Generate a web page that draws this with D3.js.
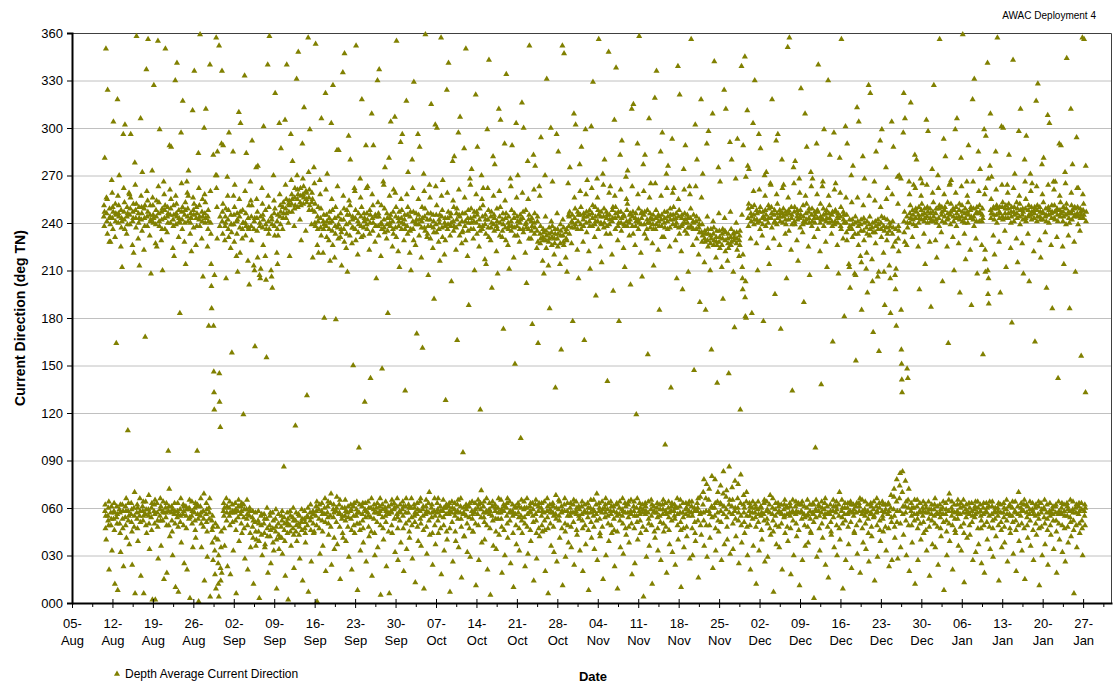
<!DOCTYPE html>
<html>
<head>
<meta charset="utf-8">
<script src="https://cdn.jsdelivr.net/npm/d3@7"></script>
<style>
  body { margin: 0; background: #fff; }
  text { font-family: Arial, "Liberation Sans", sans-serif; fill: #000; }
</style>
</head>
<body>
<div id="chart"></div>
<script>
// Depth average current direction, hourly readings, one row per day.
var stepMinutes = 60;

var augDir = [
  244,251,238,247,281,58,62,47,55,350,40,256,
  246,241,255,233,324,55,52,60,49,64,21,228,249,243,244,239,228,57,49,53,61,267,33,259,
  243,250,236,247,304,53,58,63,46,57,12,231,252,241,246,245,164,54,61,50,56,318,8,257,
  240,246,251,244,270,59,50,57,44,62,32,225,248,237,243,241,212,62,53,47,58,296,23,262,
  247,242,253,236,302,54,61,49,58,66,41,233,244,250,239,246,109,58,52,63,55,259,37,258,
  245,239,249,256,296,56,63,51,59,45,24,226,241,247,243,252,221,60,48,55,70,278,6,264,
  248,243,237,252,358,57,53,62,47,60,39,230,246,240,250,243,213,55,66,58,51,306,17,257,
  242,250,246,235,272,61,58,52,64,55,6,223,249,243,238,251,168,56,64,49,59,337,44,260,
  244,238,254,247,356,59,55,68,50,57,34,232,245,251,241,242,208,54,60,46,63,273,2,256,
  251,245,240,243,327,58,62,50,56,65,2,227,239,248,244,254,225,63,57,52,48,355,28,263,
  246,253,241,238,299,55,59,66,52,61,36,229,247,242,236,249,210,52,58,64,57,266,15,258,
  243,248,236,251,350,60,54,57,63,49,19,234,244,250,240,246,96,58,49,61,72,289,42,261,
  245,240,249,255,288,57,61,52,45,59,30,224,242,238,251,245,219,56,63,58,50,330,10,257,
  239,246,252,244,341,54,58,63,56,48,7,231,248,243,241,240,183,59,51,55,66,297,38,265,
  247,242,236,250,317,56,62,49,58,61,25,228,245,240,248,253,214,61,55,47,59,266,21,259,
  244,249,241,257,273,59,53,60,65,54,3,233,240,246,243,243,222,55,64,50,58,311,35,256,
  248,237,245,252,336,57,60,52,46,63,41,226,243,250,238,246,96,62,56,61,53,284,1,262,
  242,251,244,238,359,61,55,66,57,50,35,230,247,241,255,244,206,58,48,53,69,300,14,258,
  246,240,253,243,312,56,63,51,59,45,29,225,244,236,248,241,175,60,53,57,66,340,4,260,
  240,233,214,200,186,52,46,38,55,48,27,283,175,146,133,122,207,33,18,41,50,270,9,357,
  262,270,250,230,285,48,40,25,12,30,4,352,145,127,238,244,111,22,14,35,45,290,19,336,
  241,247,233,252,289,58,63,55,47,60,36,229,238,244,240,249,205,66,52,57,61,269,23,257
];

var sepDir = [
  242,236,248,231,297,60,55,64,49,57,18,224,245,239,239,234,158,57,62,51,58,285,33,257,
  239,245,228,250,264,57,63,52,59,46,6,219,241,233,246,242,209,58,54,61,65,310,39,255,
  244,237,221,247,303,56,61,50,58,63,44,230,236,248,240,240,119,62,54,47,59,333,28,260,
  240,232,246,238,284,59,53,65,56,49,21,216,243,237,236,251,201,55,60,58,44,266,35,254,
  238,244,229,251,292,54,48,58,41,52,12,213,236,241,210,243,162,51,57,45,36,275,40,255,
  243,235,247,218,276,52,58,45,50,39,3,207,240,238,205,244,211,55,49,43,56,262,30,252,
  237,245,226,242,301,50,56,44,53,35,37,219,248,239,204,236,155,53,60,47,42,340,19,257,
  241,233,250,236,358,49,55,42,57,46,25,210,244,206,242,239,199,57,47,38,52,270,33,254,
  246,238,232,249,322,53,45,59,48,40,9,221,241,236,214,245,232,50,56,43,34,303,41,258,
  244,251,239,247,287,48,55,41,52,58,31,236,250,243,253,246,86,54,46,50,39,305,17,264,
  249,243,255,246,340,51,57,44,49,53,2,240,252,247,254,251,219,49,58,45,55,296,36,267,
  252,258,247,255,279,54,47,60,52,43,22,238,249,256,262,251,112,52,45,57,49,331,39,270,
  255,261,250,258,348,56,50,43,55,48,28,242,253,262,257,251,229,51,59,46,53,290,14,268,
  258,252,263,256,313,53,58,47,51,44,38,235,260,255,259,253,131,55,49,54,60,357,7,272,
  256,248,261,251,299,57,52,62,46,54,26,239,253,259,248,255,218,58,50,56,44,275,45,265,
  247,240,252,238,353,55,61,58,49,64,1,226,244,236,241,250,221,59,53,47,62,267,31,258,
  243,237,249,232,306,58,63,52,56,45,36,221,241,236,245,239,180,60,56,66,51,322,20,261,
  238,245,231,241,271,57,61,54,64,50,43,229,236,243,247,240,216,55,63,48,69,303,24,255,
  241,235,248,226,327,59,54,62,57,41,34,218,243,238,233,250,179,58,51,60,67,286,37,263,
  237,244,230,239,286,56,62,57,48,65,15,231,246,242,236,234,213,53,60,55,44,335,41,257,
  242,236,249,228,347,60,55,65,52,58,39,224,239,233,248,245,209,57,48,61,54,295,29,254,
  240,245,232,251,280,58,62,53,59,46,21,227,237,242,244,237,150,61,55,49,63,262,44,260,
  236,243,248,229,352,55,59,64,50,57,8,220,241,234,246,239,98,57,50,62,46,268,33,256,
  244,238,231,250,318,61,56,52,63,47,38,232,237,246,241,243,127,59,63,54,58,289,26,262,
  239,246,236,242,263,57,64,55,48,60,42,223,233,248,240,245,142,54,60,45,66,309,17,258,
  243,235,251,240,289,59,53,62,57,44,30,228,245,238,238,244,205,60,57,51,63,330,35,253,
  238,246,232,244,337,56,61,58,66,49,5,219,240,251,239,236,148,62,54,59,47,266,40,264,
  242,237,249,234,275,60,55,64,51,58,23,230,246,239,243,235,183,57,61,45,56,281,6,257,
  240,243,238,245,304,58,62,57,49,65,44,225,241,236,247,233,261,59,63,53,60,307,32,259,
  237,244,250,231,355,61,56,66,54,47,27,222,243,238,241,247,212,58,52,62,57,291,38,255
];

var octDir = [
  243,236,248,240,296,59,64,55,47,61,20,229,239,242,245,236,134,61,57,50,66,317,34,258,
  238,245,233,250,272,57,62,52,60,45,41,221,244,235,247,236,210,60,66,54,49,280,28,262,
  241,236,247,229,329,62,55,60,51,57,13,226,240,246,239,242,170,56,63,48,59,296,39,255,
  245,239,232,242,288,58,64,53,66,50,36,218,237,241,250,243,161,59,55,61,46,271,9,260,
  237,244,249,235,359,56,61,65,48,58,31,231,242,233,246,238,207,63,57,52,70,264,43,256,
  242,230,246,238,315,60,54,62,57,44,24,224,245,237,241,234,192,58,66,49,55,302,37,263,
  239,245,234,251,300,63,57,59,52,66,44,228,236,242,240,245,216,55,61,47,58,357,18,257,
  244,237,248,231,267,58,65,54,49,60,33,220,240,238,243,229,128,60,56,62,45,324,40,259,
  236,243,239,247,341,61,56,63,58,47,7,232,244,238,246,240,203,57,64,51,60,279,26,254,
  241,235,250,238,282,59,63,55,45,57,39,223,237,246,242,249,166,62,58,53,65,297,35,261,
  245,239,232,244,307,57,61,66,53,48,16,227,241,234,246,235,95,56,60,57,42,287,42,256,
  238,246,241,229,350,62,55,59,61,50,32,219,243,235,248,240,188,61,54,47,63,268,29,264,
  243,236,249,240,274,58,64,53,56,45,45,230,236,241,244,247,210,57,63,59,50,321,11,258,
  240,247,233,245,288,56,60,65,49,62,27,225,242,238,249,235,122,63,59,54,71,270,38,255,
  236,244,238,251,262,61,57,54,64,51,40,217,239,245,242,233,214,58,66,49,57,299,21,262,
  242,237,248,231,343,59,63,56,47,58,5,229,244,237,247,240,199,55,61,64,52,282,36,257,
  239,245,235,243,277,62,58,60,53,45,34,222,238,249,241,236,208,60,53,57,66,312,43,260,
  244,232,240,250,305,57,65,53,59,48,19,231,235,242,246,239,173,62,58,46,61,290,30,254,
  237,243,229,246,334,60,55,63,50,66,41,226,240,236,244,238,211,57,64,52,58,268,25,263,
  241,235,248,238,289,58,62,55,44,57,10,218,243,237,246,232,151,61,56,60,49,303,37,256,
  238,244,232,241,270,63,57,61,54,47,33,228,236,240,245,242,104,55,60,65,52,316,44,259,
  243,236,247,234,300,59,64,54,60,50,23,221,239,248,240,237,202,60,66,48,56,279,31,255,
  236,242,230,245,352,57,61,58,46,63,39,230,241,235,243,238,176,63,55,59,51,283,14,261,
  240,233,246,237,276,62,56,65,52,44,28,224,235,241,244,228,164,58,61,47,63,263,42,257,
  233,227,238,230,294,60,55,63,49,58,45,216,231,236,229,234,208,57,64,52,46,270,20,244,
  229,235,224,232,331,58,66,54,61,47,6,213,228,233,237,230,186,62,59,50,57,300,36,241,
  234,226,231,238,266,63,57,61,48,55,32,220,230,227,236,233,136,56,68,53,60,296,26,246,
  230,236,225,233,285,59,65,55,52,64,41,214,227,239,232,235,160,61,57,47,58,352,11,242,
  232,228,237,226,347,62,58,66,50,45,29,218,234,230,236,229,209,58,63,55,49,265,38,245,
  238,244,233,247,275,60,55,63,57,48,35,227,241,237,245,240,178,57,62,51,65,309,24,256,
  243,237,249,239,302,58,64,56,46,60,43,223,236,247,241,245,205,61,55,53,59,277,33,260
];

var novDir = [
  245,239,250,236,288,61,56,64,52,47,20,228,242,238,246,244,166,58,62,49,57,299,37,258,
  240,247,234,244,267,57,63,54,60,46,8,222,245,241,248,238,211,60,57,65,51,301,41,262,
  246,238,243,251,329,59,55,65,48,58,34,231,239,250,244,241,194,62,56,52,69,268,27,256,
  241,248,236,245,356,63,58,60,53,44,42,225,244,240,247,239,215,57,64,48,59,271,15,264,
  244,237,249,240,280,60,54,62,57,66,30,233,247,243,238,245,140,59,55,50,63,348,39,259,
  239,245,242,233,263,58,64,56,49,61,44,220,241,248,243,250,197,61,58,53,46,305,23,257,
  243,236,250,246,338,62,57,63,55,45,9,229,238,244,247,240,178,56,60,64,52,283,35,261,
  247,240,235,243,292,59,55,66,50,58,31,224,245,239,244,238,212,63,57,47,61,269,43,255,
  241,248,238,252,273,57,62,54,64,48,38,232,240,245,242,246,201,58,65,56,50,312,18,263,
  238,244,247,233,315,61,58,64,47,55,25,226,243,238,246,241,119,60,55,51,66,290,40,258,
  242,236,249,240,358,58,63,56,52,60,44,221,239,246,243,247,206,62,57,48,59,277,4,260,
  245,239,233,247,283,63,56,61,58,46,29,230,236,242,248,240,157,57,64,53,50,306,36,256,
  240,246,237,243,265,59,65,55,49,62,12,227,242,239,245,236,213,61,58,45,57,319,41,265,
  236,243,248,239,336,57,60,63,54,47,33,223,245,241,244,238,185,55,62,59,51,285,27,257,
  242,238,245,231,297,62,56,59,65,50,45,231,240,247,243,237,100,63,58,48,56,271,19,262,
  247,241,236,244,276,60,64,54,46,57,37,225,237,249,242,245,136,58,61,52,63,293,32,259,
  239,245,242,250,262,58,55,62,53,60,24,229,243,238,246,240,205,60,66,49,56,339,40,255,
  244,237,248,233,321,61,57,65,51,46,10,222,238,243,245,239,198,57,63,54,47,274,35,261,
  240,246,235,242,289,59,63,56,60,48,42,233,245,240,243,237,209,62,55,58,64,263,28,258,
  237,243,249,238,356,57,61,64,47,55,30,226,241,236,245,240,147,60,58,51,44,302,39,263,
  241,236,244,230,280,63,58,60,52,66,16,220,237,242,239,234,190,56,67,49,57,318,43,256,
  234,228,239,232,271,62,70,57,52,78,36,215,230,235,228,233,185,66,58,49,75,290,29,244,
  229,236,225,233,298,65,58,72,49,56,41,210,227,232,236,230,160,61,80,54,60,309,22,241,
  233,226,237,229,342,60,55,78,63,47,33,218,231,228,235,226,139,64,57,70,52,275,45,246,
  228,235,231,224,266,63,74,58,51,62,27,212,226,233,230,236,192,69,83,56,61,324,37,243,
  235,229,222,234,312,67,59,71,54,48,40,216,230,227,233,224,145,62,86,57,65,291,31,247,
  231,226,236,228,280,61,73,56,65,50,34,209,233,229,234,231,174,58,77,60,53,268,42,240,
  227,234,230,223,293,66,60,75,52,57,25,219,229,232,226,235,122,63,81,55,49,339,38,245,
  212,205,198,220,289,62,68,57,51,60,44,345,193,181,203,269,180,64,70,55,48,311,30,276,
  243,249,238,252,274,58,63,55,49,61,21,230,246,241,244,250,183,60,57,53,64,303,36,260
];

var decDir = [
  245,239,251,242,330,57,62,54,60,48,12,227,248,242,246,240,210,59,64,51,56,296,33,261,
  241,247,236,250,287,61,55,60,46,57,40,232,243,239,247,244,178,56,63,52,65,270,26,257,
  248,242,238,245,272,58,64,53,59,50,29,224,240,251,243,249,214,62,57,47,68,265,43,264,
  243,250,246,237,318,56,60,66,52,45,7,230,245,240,248,241,195,59,55,63,49,292,37,258,
  239,246,252,243,296,63,57,61,48,58,35,226,248,244,241,246,173,57,62,50,56,280,21,262,
  246,240,244,249,264,59,54,62,55,65,44,233,242,247,239,245,205,61,56,48,60,351,39,256,
  242,248,235,246,357,57,63,55,61,47,18,223,250,243,245,239,134,58,65,52,57,275,30,265,
  247,241,250,239,279,61,56,64,50,58,42,229,244,248,242,246,216,63,57,46,62,268,11,259,
  243,237,248,245,325,58,62,53,57,64,27,234,239,251,244,241,190,56,61,49,54,309,36,257,
  240,246,242,252,288,60,55,65,48,56,38,225,247,243,249,240,207,62,58,53,45,272,44,263,
  245,238,249,241,268,57,63,56,62,51,3,231,243,247,240,245,98,59,54,65,58,290,29,258,
  248,243,236,247,340,62,58,61,47,55,33,222,240,252,244,242,138,57,64,50,60,263,41,266,
  242,249,245,238,299,59,54,63,56,66,24,228,246,241,248,243,212,61,56,48,57,330,16,257,
  246,240,251,243,283,56,62,58,51,45,43,233,241,245,238,247,165,58,65,54,61,297,35,261,
  239,247,241,248,265,61,57,64,49,59,30,226,244,240,246,243,208,62,55,47,70,281,40,259,
  244,238,250,236,356,58,65,54,60,50,9,230,247,242,245,240,181,56,60,63,52,301,27,256,
  240,234,245,229,290,60,56,63,48,57,37,214,236,212,242,238,199,58,64,51,62,270,22,253,
  236,242,231,239,276,57,62,55,59,45,44,208,233,240,244,207,153,61,57,49,63,313,31,256,
  241,233,238,226,304,63,58,61,52,66,19,219,239,235,242,215,185,56,65,47,58,282,38,251,
  235,243,229,240,268,59,55,64,50,57,34,211,237,221,241,233,196,62,58,53,44,327,26,257,
  239,232,244,236,322,56,63,57,61,48,42,217,237,203,240,234,171,59,54,64,55,266,14,254,
  234,241,227,238,285,61,57,66,49,58,29,206,242,236,239,209,159,63,60,52,46,292,39,250,
  240,236,231,244,299,58,64,55,53,62,45,221,238,209,243,235,188,57,62,48,59,275,33,255,
  237,229,242,233,262,62,56,63,47,58,23,213,235,240,238,205,183,60,68,54,51,304,27,258,
  233,241,225,237,288,59,67,72,55,48,41,207,228,198,236,211,175,64,78,51,58,269,28,252,
  230,238,222,235,270,66,74,58,82,50,35,268,185,160,151,141,133,70,83,56,61,297,43,322,
  241,234,247,228,306,61,77,57,52,64,30,226,244,148,240,237,142,65,60,49,72,266,20,258,
  246,240,251,243,316,58,63,55,49,60,38,231,248,242,245,239,264,60,56,52,65,283,12,262,
  243,249,238,247,280,56,61,65,53,47,27,225,245,240,250,243,198,58,63,50,57,268,40,257,
  248,242,252,245,265,60,55,58,64,51,44,233,241,246,249,243,214,62,57,46,60,305,33,264,
  244,250,240,247,298,57,64,53,59,48,17,228,249,243,246,241,187,59,56,62,52,274,37,259
];

var janDir = [
  247,241,253,244,327,59,55,62,50,66,35,229,246,242,249,240,218,57,61,48,56,270,24,262,
  243,249,238,251,356,62,57,54,47,59,42,234,245,250,247,241,203,60,56,64,51,293,8,258,
  248,244,250,240,282,56,63,59,52,45,30,225,242,253,246,243,164,58,65,50,69,264,39,265,
  245,239,247,252,267,60,55,64,58,49,21,231,249,244,241,248,210,62,57,53,46,299,44,259,
  250,243,238,246,306,58,62,53,65,56,36,227,244,248,252,242,196,56,60,48,63,281,33,263,
  244,251,247,241,359,61,57,65,50,44,13,233,240,246,249,243,217,59,54,62,57,266,41,257,
  247,240,253,245,289,57,63,56,49,60,43,223,248,243,250,244,188,63,58,51,55,318,27,266,
  242,249,244,238,331,59,54,61,56,64,32,230,246,241,247,250,208,57,64,47,60,285,37,260,
  246,241,251,247,274,62,58,55,47,52,25,226,241,245,249,243,157,60,56,63,49,299,19,258,
  217,223,209,262,295,58,63,57,51,60,40,341,210,195,268,205,189,61,55,48,64,276,34,309,
  248,243,255,246,269,56,61,64,52,47,29,232,250,245,249,242,220,58,53,60,57,285,42,261,
  245,251,240,249,357,60,55,58,49,63,14,228,247,243,250,246,196,62,57,51,46,301,35,264,
  250,244,253,242,300,57,63,54,60,48,38,235,246,249,243,251,212,59,65,52,56,264,26,259,
  243,249,246,252,283,61,56,62,47,55,44,224,240,247,244,250,177,55,60,64,51,343,31,262,
  247,241,250,245,271,58,64,57,52,46,20,230,253,246,243,249,215,61,56,49,70,298,39,257,
  244,252,239,248,312,55,60,63,58,50,33,227,245,249,242,247,208,58,62,47,65,280,15,266,
  249,243,255,241,295,62,57,54,49,61,41,233,248,244,251,245,203,56,59,64,52,271,36,260,
  245,250,242,247,265,59,63,58,46,56,27,222,243,248,246,250,165,60,55,50,62,317,43,263,
  241,248,251,244,328,56,61,64,53,47,11,229,250,244,247,242,218,63,57,48,59,277,30,258,
  247,242,246,253,281,60,54,59,65,50,37,234,244,249,245,241,199,57,62,53,46,308,24,264,
  250,245,240,248,303,58,63,55,49,57,43,226,246,243,251,247,186,59,56,61,52,266,34,261,
  243,251,247,242,266,61,57,62,52,45,19,231,249,245,248,241,142,56,64,50,58,290,40,257,
  248,244,253,246,289,57,60,56,63,49,32,225,241,247,250,244,214,62,58,47,55,272,26,265,
  245,239,249,252,344,63,55,61,48,59,38,232,247,243,246,240,186,58,54,65,51,312,42,259,
  251,246,242,248,277,59,64,57,52,46,6,228,244,250,245,249,209,60,57,49,62,294,35,262,
  246,250,244,239,262,56,61,63,50,58,44,235,249,243,247,245,156,63,59,52,47,357,30,258,
  248,243,252,245,356,58,55,62,49,60,133,276,241,247
];

var seriesStarts = [
  new Date(2008, 7, 10, 12), new Date(2008, 8, 1), new Date(2008, 9, 1),
  new Date(2008, 10, 1), new Date(2008, 11, 1), new Date(2009, 0, 1)
];
var seriesValues = [augDir, sepDir, octDir, novDir, decDir, janDir];

var xStart = new Date(2008, 7, 5);
var xEnd = new Date(2009, 1, 1);
var yTicks = d3.range(0, 361, 30);
var seriesName = "Depth Average Current Direction";

var points = [];
seriesValues.forEach(function (arr, k) {
  arr.forEach(function (v, i) {
    points.push({ t: d3.timeMinute.offset(seriesStarts[k], i * stepMinutes), dir: v });
  });
});

var W = 1114, H = 685;
var margin = { top: 33, right: 2, bottom: 82, left: 72 };
var width = W - margin.left - margin.right;
var height = H - margin.top - margin.bottom;

var svg = d3.select("#chart")
  .append("svg")
  .attr("width", W)
  .attr("height", H);

var g = svg.append("g")
  .attr("transform", "translate(" + margin.left + "," + margin.top + ")");

var x = d3.scaleTime().domain([xStart, xEnd]).range([0, width]);
var y = d3.scaleLinear().domain([0, 360]).range([height, 0]);

// gridlines
g.selectAll(".grid")
  .data(yTicks.filter(function (d) { return d > 0 && d < 360; }))
  .enter()
  .append("line")
  .attr("x1", 0)
  .attr("x2", width)
  .attr("y1", function (d) { return y(d) + 0.5; })
  .attr("y2", function (d) { return y(d) + 0.5; })
  .attr("stroke", "#c0c0c0")
  .attr("stroke-width", 1);

// frame (top and right)
g.append("path")
  .attr("d", "M0,0.5H" + (width - 0.5) + "V" + height)
  .attr("fill", "none")
  .attr("stroke", "#404040")
  .attr("stroke-width", 1);

// points
var tri = d3.symbol().type(d3.symbolTriangle).size(16);
g.append("g")
  .selectAll("path")
  .data(points)
  .enter()
  .append("path")
  .attr("d", tri)
  .attr("transform", function (d) { return "translate(" + x(d.t) + "," + y(d.dir) + ")"; })
  .attr("fill", "#808000");

// y axis
var yAxis = g.append("g")
  .call(d3.axisLeft(y).tickValues(yTicks).tickSize(5).tickPadding(4).tickFormat(d3.format("03d")));
yAxis.select(".domain").attr("stroke", "#000").attr("stroke-width", 2);
yAxis.selectAll("text").style("font-size", "13px").attr("fill", "#000");

// x axis
var weeks = d3.timeDay.range(xStart, xEnd, 7);
var midWeeks = weeks.map(function (d) { return d3.timeHour.offset(d, 84); })
  .filter(function (d) { return d < xEnd; });

var xMinor = g.append("g")
  .attr("transform", "translate(0," + height + ")")
  .call(d3.axisBottom(x).tickValues(midWeeks).tickSize(4).tickFormat(""));
xMinor.select(".domain").remove();

var xAxis = g.append("g")
  .attr("transform", "translate(0," + height + ")")
  .call(d3.axisBottom(x).tickValues(weeks).tickSizeInner(5).tickSizeOuter(0).tickFormat(""));
xAxis.select(".domain").attr("stroke", "#000").attr("stroke-width", 2);
xAxis.selectAll(".tick").append("line").attr("y2", -4).attr("stroke", "#000");

var fmtDay = d3.timeFormat("%d-"), fmtMon = d3.timeFormat("%b");
var lab = xAxis.selectAll(".tick").append("text")
  .attr("text-anchor", "middle")
  .style("font-size", "13px")
  .attr("fill", "#000");
lab.append("tspan").attr("x", 0).attr("y", 25).text(function (d) { return fmtDay(d); });
lab.append("tspan").attr("x", 0).attr("y", 42).text(function (d) { return fmtMon(d); });

// titles
svg.append("text")
  .attr("transform", "translate(25," + (margin.top + height / 2) + ") rotate(-90)")
  .attr("text-anchor", "middle")
  .style("font-size", "14px")
  .style("font-weight", "bold")
  .text("Current Direction (deg TN)");

svg.append("text")
  .attr("x", 593)
  .attr("y", 681)
  .attr("text-anchor", "middle")
  .style("font-size", "13px")
  .style("font-weight", "bold")
  .text("Date");

svg.append("text")
  .attr("x", 1096)
  .attr("y", 19)
  .attr("text-anchor", "end")
  .style("font-size", "10px")
  .text("AWAC Deployment 4");

// legend
svg.append("path")
  .attr("d", tri)
  .attr("transform", "translate(117,674)")
  .attr("fill", "#808000");
svg.append("text")
  .attr("x", 125)
  .attr("y", 678)
  .style("font-size", "12px")
  .text(seriesName);
</script>
</body>
</html>
